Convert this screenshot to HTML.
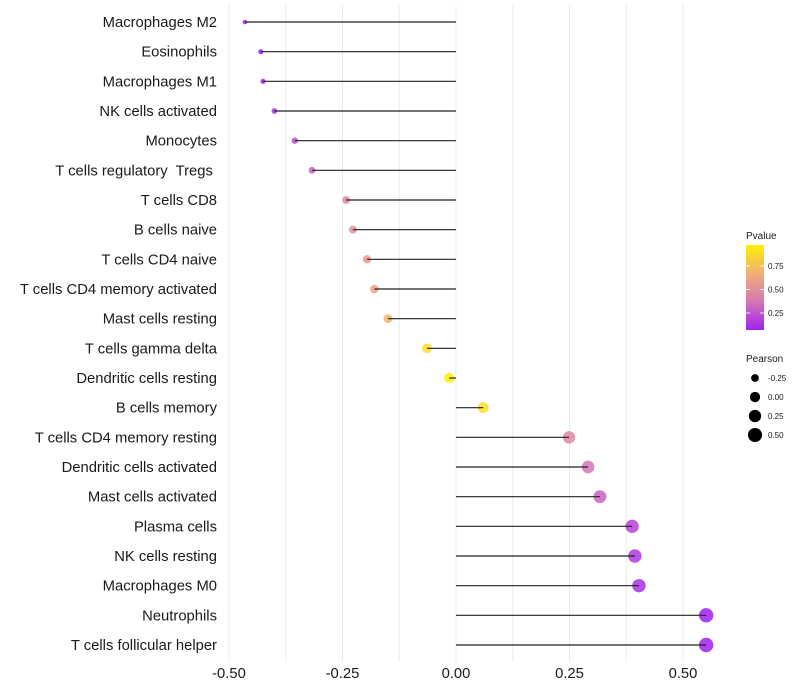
<!DOCTYPE html>
<html><head><meta charset="utf-8"><style>
body{margin:0;background:#fff;}
svg{display:block;font-family:"Liberation Sans",Arial,sans-serif;}
text{white-space:pre;}
</style></head><body>
<svg id="chart" width="800" height="700"></svg>
<script>
const categories=["Macrophages M2","Eosinophils","Macrophages M1","NK cells activated","Monocytes","T cells regulatory  Tregs ","T cells CD8","B cells naive","T cells CD4 naive","T cells CD4 memory activated","Mast cells resting","T cells gamma delta","Dendritic cells resting","B cells memory","T cells CD4 memory resting","Dendritic cells activated","Mast cells activated","Plasma cells","NK cells resting","Macrophages M0","Neutrophils","T cells follicular helper"];
const pearson=[-0.465,-0.43,-0.425,-0.40,-0.355,-0.317,-0.242,-0.227,-0.196,-0.18,-0.15,-0.064,-0.015,0.06,0.249,0.291,0.317,0.388,0.394,0.403,0.551,0.551];
const pvalue=[0.05,0.08,0.09,0.12,0.22,0.3,0.48,0.5,0.55,0.6,0.7,0.88,0.97,0.88,0.45,0.36,0.3,0.18,0.15,0.12,0.06,0.06];
const xTicks=[-0.5,-0.25,0,0.25,0.5];
const xTickLabels=["-0.50","-0.25","0.00","0.25","0.50"];
const xMinor=[-0.375,-0.125,0.125,0.375];
const pTicks=[0.25,0.5,0.75];
const sizeTicks=[-0.25,0,0.25,0.5];
const sizeTickLabels=["-0.25","0.00","0.25","0.50"];

const NS="http://www.w3.org/2000/svg";
const svg=document.getElementById('chart');
function el(t,a,p){const e=document.createElementNS(NS,t);for(const k in a)e.setAttribute(k,a[k]);(p||svg).appendChild(e);return e;}
const x=v=>456+v*454;
const y=i=>22+i*(623/21);
const rad=v=>Math.sqrt(5+(v+0.465)/1.016*47);
function col(p){
  const t=Math.max(0,Math.min(1,(p-0.07)/0.9));
  const stops=[[160,32,240],[214,120,180],[240,175,120],[255,240,0]];
  const s=t*3,i=Math.min(2,Math.floor(s)),f=s-i;
  const c=stops[i].map((v,k)=>Math.round(v+(stops[i+1][k]-v)*f));
  return `rgb(${c[0]},${c[1]},${c[2]})`;
}
const gGrid=el('g',{});


xTicks.concat(xMinor).forEach(v=>{el('line',{x1:x(v),x2:x(v),y1:5,y2:662,stroke:'#ebebeb','stroke-width':1},gGrid);});
categories.forEach((c,i)=>{
  const t=el('text',{x:217,y:y(i)+5,'text-anchor':'end','font-size':14.8,fill:'#1a1a1a'});
  t.textContent=c;
  
  
});
pearson.forEach((v,i)=>{
  const d=el('circle',{cx:x(v),cy:y(i),r:rad(v),fill:col(pvalue[i]),'fill-opacity':0.85});
  
  
  const l=el('line',{x1:x(0),x2:x(v),y1:y(i),y2:y(i),stroke:'#222','stroke-width':1.2});
  
  
});
xTicks.forEach((v,i)=>{
  const t=el('text',{x:x(v),y:678,'text-anchor':'middle','font-size':14.8,fill:'#1a1a1a'});
  t.textContent=xTickLabels[i];
  
  
});
const lg=el('g',{});


const defs=el('defs',{});
const gr=el('linearGradient',{id:'pg',x1:0,y1:1,x2:0,y2:0},defs);
[0,0.33,0.66,1].forEach(o=>el('stop',{offset:o,'stop-color':col(0.07+o*0.9)},gr));
const lt=el('text',{x:746,y:239,'font-size':10,fill:'#1a1a1a'},lg);lt.textContent='Pvalue';
el('rect',{x:746,y:245,width:18,height:85,fill:'url(#pg)'},lg);
const py=p=>336.5-p*94;
pTicks.forEach(p=>{
  el('line',{x1:746,x2:750,y1:py(p),y2:py(p),stroke:'#fff','stroke-width':0.8},lg);
  el('line',{x1:760,x2:764,y1:py(p),y2:py(p),stroke:'#fff','stroke-width':0.8},lg);
  const t=el('text',{x:768,y:py(p)+3,'font-size':8,fill:'#1a1a1a'},lg);t.textContent=p.toFixed(2);
});
const sg=el('g',{});


const st=el('text',{x:746,y:362,'font-size':10,fill:'#1a1a1a'},sg);st.textContent='Pearson';
sizeTicks.forEach((v,i)=>{
  const cy=378+i*19;
  el('circle',{cx:755,cy:cy,r:rad(v),fill:'#000'},sg);
  const t=el('text',{x:768,y:cy+3,'font-size':8,fill:'#1a1a1a'},sg);t.textContent=sizeTickLabels[i];
});
</script>
</body></html>
